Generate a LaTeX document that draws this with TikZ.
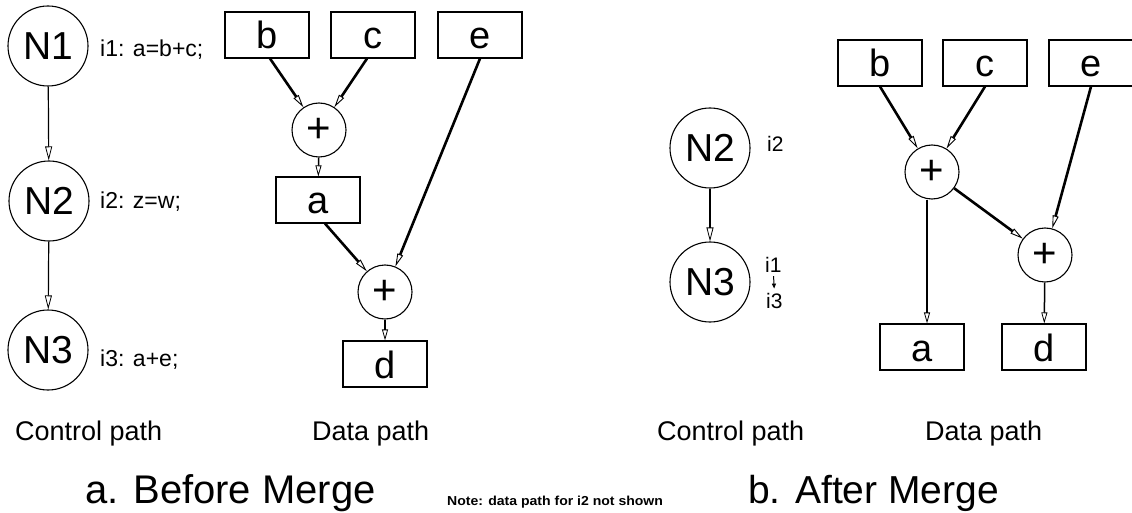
\documentclass[tikz,border=0pt]{standalone}
\usepackage{fontspec}
\usepackage{graphicx}
\setmainfont{Liberation Sans}
\usetikzlibrary{arrows.meta}

\newcommand{\fsz}[1]{\fontsize{#1}{#1}\selectfont}

\begin{document}
\begin{tikzpicture}[x=1pt,y=-1pt,
  ctl/.style={circle,draw,line width=1.1pt,minimum size=80pt,inner sep=0pt,font=\fsz{39}},
  var/.style={rectangle,draw,line width=1.1pt,minimum width=84pt,minimum height=46pt,
              inner sep=0pt,text height=28pt,text depth=0pt,font=\fsz{38}},
  op/.style={circle,draw,line width=1.1pt,minimum size=54pt,inner sep=0pt,font=\fsz{42}},
  instr/.style={anchor=base west,inner sep=0pt,font=\fsz{23}},
  tag/.style={anchor=base west,inner sep=0pt,font=\fsz{21}},
  caption/.style={anchor=base west,inner sep=0pt,font=\fsz{27}},
  title/.style={anchor=base west,inner sep=0pt,font=\fsz{40}},
  cflow/.style={line width=1.2pt,-{Triangle[open,length=14pt,width=7pt,line width=0.8pt]}},
  dflow/.style={line width=2.6pt,-{Triangle[open,length=13pt,width=6pt,line width=0.9pt]}},
  dthin/.style={line width=1.5pt,-{Triangle[open,length=11pt,width=6pt,line width=0.8pt]}},
]
\useasboundingbox (0,0) rectangle (1132,513);

% ---------- a. Before Merge: control path ----------
\node[ctl] (n1) at (48,46)  {N1};
\node[ctl] (n2) at (49,201) {N2};
\node[ctl] (n3) at (48,350) {N3};
\draw[cflow] (n1) -- (n2);
\draw[cflow] (n2) -- (n3);
\node[instr] (l1) at (100,57)  {i1: a=b+c;};
\node[instr] (l2) at (100,208) {i2: z=w;};
\node[instr] (l3) at (100,366) {i3: a+e;};

% ---------- a. Before Merge: data path ----------
\node[var] (b) at (267,35) {b};
\node[var] (c) at (373,35) {c};
\node[var] (e) at (480,35) {e};
\node[op]  (p1) at (319,130) {+};
\node[var] (a) at (318,200) {a};
\node[op]  (p2) at (385,292) {+};
\node[var] (d) at (385,364) {d};
\draw[dflow] ([xshift=3pt]b.south) -- (p1);
\draw[dflow] ([xshift=-6pt]c.south) -- (p1);
\draw[dthin] (p1) -- (a);
\draw[dflow] ([xshift=7pt]a.south) -- (p2);
\draw[dflow] (e.south) -- (p2);
\draw[dthin] (p2) -- (d);

% ---------- b. After Merge: control path ----------
\node[ctl] (m2) at (710,148) {N2};
\node[ctl] (m3) at (710,282) {N3};
\draw[cflow] (m2) -- (m3);
\node[tag] (t2) at (767,152) {i2};
\node[tag] (t1) at (765,272) {i1};
\node[tag] (t3) at (766,308) {i3};
\draw[line width=1pt,-{Triangle[length=5pt,width=4pt]},shorten <=4pt,shorten >=4pt] (t1.south) -- (t3.north);

% ---------- b. After Merge: data path ----------
\node[var] (b2) at (880,63)  {b};
\node[var] (c2) at (985,63)  {c};
\node[var] (e2) at (1091,63) {e};
\node[op]  (p3) at (932,172) {+};
\node[op]  (p4) at (1045,255) {+};
\node[var] (a2) at (922,347) {a};
\node[var] (d2) at (1044,347) {d};
\draw[dflow] (b2.south) -- (p3);
\draw[dflow] (c2.south) -- (p3);
\draw[dflow] (e2.south) -- (p4);
\draw[dflow] (p3) -- (p4);
\draw[dthin] ([xshift=-5pt]p3.south) -- ([xshift=-5pt]p3.south |- a2.north);
\draw[dthin] (p4) -- (d2);

% ---------- captions ----------
\node[caption] (cp1) at (15,440)  {Control path};
\node[caption] (dp1) at (312,440) {Data path};
\node[caption] (cp2) at (657,440) {Control path};
\node[caption] (dp2) at (925,440) {Data path};
\node[title] (ta) at (85,503)  {a. Before Merge};
\node[title,font=\fsz{39}] (tb) at (748,503) {b. After Merge};
\node[anchor=base west,inner sep=0pt,font=\fsz{13}\bfseries] (note) at (447,505)
  {\scalebox{1.08}[1]{Note: data path for i2 not shown}};
\end{tikzpicture}
\end{document}
